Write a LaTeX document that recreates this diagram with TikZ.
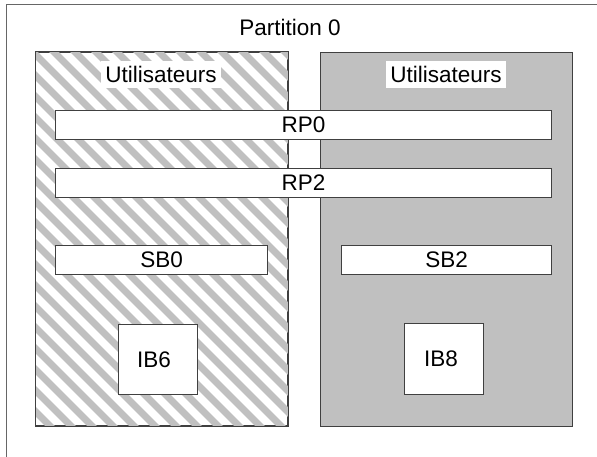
\documentclass[tikz,border=0pt]{standalone}
\usepackage{fontspec}
\setmainfont{Liberation Sans}
\definecolor{stripegray}{RGB}{192,192,192}
\definecolor{edgegray}{RGB}{64,64,64}
\begin{document}
\begin{tikzpicture}[x=1pt,y=-1pt,
  every node/.style={font=\fontsize{22.5}{26}\selectfont},
  dombox/.style={draw=edgegray,line width=1pt,inner sep=0pt,anchor=north west},
  busbox/.style={draw=edgegray,line width=1.2pt,fill=white,inner sep=0pt,anchor=north west},
  userlabel/.style={fill=white,inner xsep=4pt,inner ysep=0pt,minimum height=27pt}]
\useasboundingbox (0,0) rectangle (597,457);
% cadre de la partition
\draw[draw=black!60,line width=1pt] (6.5,4.5) rectangle (610,470);
\node (part) at (290,27) {Partition 0};
% domaines
\node[dombox,minimum width=252pt,minimum height=373pt] (leftdom) at (35,52) {};
\node[dombox,fill=stripegray,minimum width=252pt,minimum height=374pt] (rightdom) at (320,52) {};
\begin{scope}
  \clip (leftdom.north west) rectangle (leftdom.south east);
  \foreach \x in {-420,-399,...,300}
    \draw[stripegray,line width=7pt] (\x,40) -- (\x+420,460);
\end{scope}
\draw[edgegray,line width=1pt] (leftdom.north west) rectangle (leftdom.south east);
\node[userlabel] (userL) at (161,74.5) {Utilisateurs};
\node[userlabel] (userR) at (446,74.5) {Utilisateurs};
% bus
\node[busbox,minimum width=496pt,minimum height=29pt] (rp0) at (55,110) {};
\node (rp0t) at (rp0.center) {RP0};
\node[busbox,minimum width=496pt,minimum height=29pt] (rp2) at (55,168) {};
\node (rp2t) at (rp2.center) {RP2};
\node[busbox,minimum width=212pt,minimum height=29pt] (sb0) at (55,245) {};
\node (sb0t) at (sb0.center) {SB0};
\node[busbox,minimum width=210pt,minimum height=29pt] (sb2) at (341,245) {};
\node (sb2t) at (sb2.center) {SB2};
\node[busbox,minimum width=79pt,minimum height=70pt] (ib6) at (118,324) {};
\node (ib6t) at ([xshift=-4pt]ib6.center) {IB6};
\node[busbox,minimum width=79pt,minimum height=71pt] (ib8) at (404,323) {};
\node (ib8t) at ([xshift=-3pt]ib8.center) {IB8};
\end{tikzpicture}
\end{document}
